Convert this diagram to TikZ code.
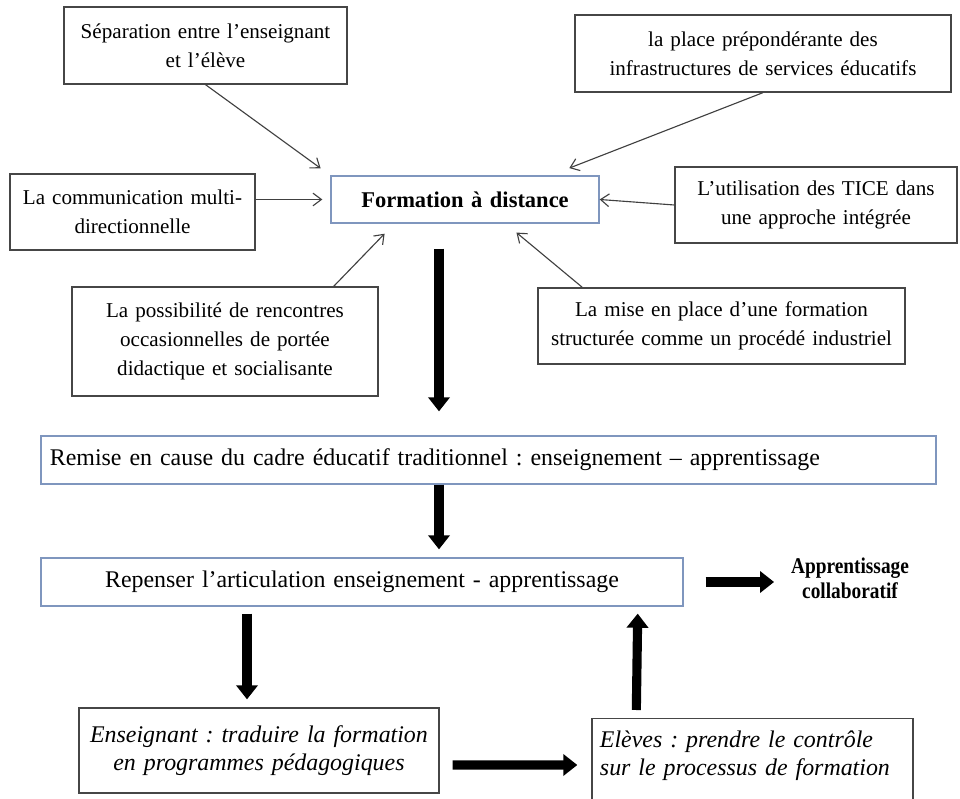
\documentclass[tikz,border=0pt]{standalone}
\usepackage{fontspec}
\usepackage{graphicx}
\setmainfont{Liberation Serif}
\usetikzlibrary{arrows.meta,calc}
\definecolor{boxblue}{RGB}{127,150,190}
\definecolor{boxgray}{RGB}{70,70,70}
\frenchspacing

\begin{document}
\begin{tikzpicture}[x=0.025cm,y=-0.025cm,
  box/.style={draw=boxgray,line width=0.9pt,inner xsep=0.1cm,inner ysep=0pt,align=center,font=\fontsize{17}{20}\selectfont},
  smallbox/.style={box,font=\fontsize{15}{20.5}\selectfont},
  bluebox/.style={box,draw=boxblue},
  feeder/.style={draw=black!75,line width=0.8pt,-{Straight Barb[length=6pt,width=9pt]}},
  bigarrow/.style={line width=6.5pt,-{Triangle[width=15pt,length=10pt]}}]
\useasboundingbox (0,0) rectangle (960,799);

\node[smallbox,text width=6.875cm,minimum height=1.925cm] (separation) at (205.5,45.5) {Séparation entre l’enseignant\\ et l’élève};
\node[smallbox,text width=9.2cm,minimum height=1.925cm] (place) at (763,53.5) {la place prépondérante des\\ infrastructures de services éducatifs};
\node[smallbox,text width=5.925cm,minimum height=1.9cm] (communication) at (132.5,212) {La communication multi-\\ directionnelle};
\node[bluebox,text width=6.5cm,minimum height=1.175cm,font=\fontsize{16}{19}\selectfont\bfseries] (formation) at (465,199.5) {Formation à distance};
\node[smallbox,text width=6.85cm,minimum height=1.9cm] (tice) at (816,205) {L’utilisation des TICE dans\\ une approche intégrée};
\node[smallbox,text width=7.45cm,minimum height=2.725cm] (rencontres) at (225,341.5) {La possibilité de rencontres\\ occasionnelles de portée\\ didactique et socialisante};
\node[smallbox,text width=8.975cm,minimum height=1.9cm] (industriel) at (721.5,326) {La mise en place d’une formation\\ structurée comme un procédé industriel};
\node[bluebox,inner xsep=0.225cm,text width=21.925cm,minimum height=1.2cm,align=left] (remise) at (488.5,460) {Remise en cause du cadre éducatif traditionnel : enseignement – apprentissage};
\node[bluebox,text width=15.85cm,minimum height=1.2cm] (repenser) at (362,582) {Repenser l’articulation enseignement - apprentissage};
\node[font=\fontsize{16}{17.5}\selectfont\bfseries,align=center] (collab) at (850,578) {\scalebox{0.86}[1]{Apprentissage}\\ \scalebox{0.86}[1]{collaboratif}};
\node[box,text width=8.8cm,minimum height=2.125cm,font=\fontsize{17}{20}\selectfont\itshape] (enseignant) at (259,750.5) {Enseignant : traduire la formation\\ en programmes pédagogiques};
\node[box,inner xsep=0.2cm,text width=7.625cm,inner ysep=0.3cm,align=left,anchor=north,font=\fontsize{17}{20}\selectfont\itshape] (eleves) at (752.5,718) {Elèves : prendre le contrôle\\ sur le processus de formation\\ \mbox{}};

\draw[feeder,shorten >=0.3cm] (separation.south) -- (formation.north west);
\draw[feeder,shorten >=0.5cm] (place.south) -- ($(formation.north east)+(-49,0)$);
\draw[feeder,shorten >=0.2cm] (communication.east |- formation.west) -- (formation.west);
\draw[feeder] (tice.west) -- (formation.east);
\draw[feeder,shorten >=0.35cm] ($(rencontres.north east)+(-45,0)$) -- ($(formation.south west)+(64,0)$);
\draw[feeder,shorten >=0.35cm] ($(industriel.north west)+(45,0)$) -- ($(formation.south east)+(-94,0)$);

\draw[bigarrow] ($(formation.south)+(-26,25)$) -- ($(remise.north)+(-49.5,-24)$);
\draw[bigarrow] ($(remise.south)+(-49.5,0)$) -- ($(repenser.north)+(77,-8)$);
\draw[bigarrow,shorten <=0.55cm,shorten >=0.3cm] (repenser.east) -- (repenser.east -| collab.west);
\draw[bigarrow] ($(repenser.south)+(-115,7)$) -- ($(enseignant.north)+(-12,-8)$);
\draw[bigarrow] ($(enseignant.east)+(13,14.5)$) -- ($(eleves.north west)+(-14,47)$);
\draw[bigarrow] ($(eleves.north west)+(45,-8)$) -- ($(repenser.south east)+(-46,7)$);
\end{tikzpicture}
\end{document}
